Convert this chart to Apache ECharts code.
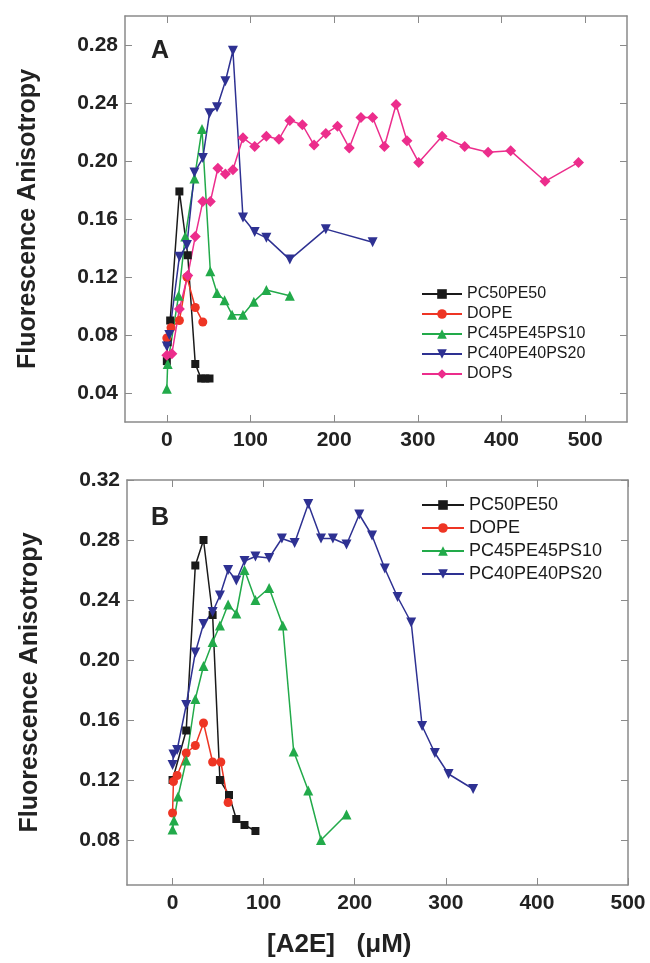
<!DOCTYPE html>
<html>
<head>
<meta charset="utf-8">
<title>Fluorescence Anisotropy vs A2E</title>
<script src="https://cdn.jsdelivr.net/npm/echarts@6/dist/echarts.min.js"></script>
</head>
<body style="margin:0">
<div id="box" style="width:650px;height:963px;"></div>
<script>
// panel A data
var aPC50x = [0, 1, 4, 15, 25, 34, 41, 46, 51]
var aPC50y = [0.062, 0.075, 0.09, 0.179, 0.135, 0.06, 0.05, 0.05, 0.05]
var aDOPEx = [0, 5, 15, 24, 34, 43]
var aDOPEy = [0.078, 0.085, 0.09, 0.12, 0.099, 0.089]
var aPS10x = [0, 1, 14, 22, 33, 42, 52, 60, 69, 78, 91, 104, 119, 147]
var aPS10y = [0.043, 0.06, 0.107, 0.148, 0.188, 0.222, 0.124, 0.109, 0.104, 0.094, 0.094, 0.103, 0.111, 0.107]
var aPS20x = [0, 3, 15, 24, 33, 43, 51, 60, 70, 79, 91, 105, 119, 147, 190, 246]
var aPS20y = [0.072, 0.08, 0.134, 0.142, 0.192, 0.202, 0.233, 0.237, 0.255, 0.276, 0.161, 0.151, 0.147, 0.132, 0.153, 0.144]
var aDOPSx = [0, 6, 15, 25, 34, 43, 52, 61, 70, 79, 91, 105, 119, 134, 147, 162, 176, 190, 204, 218, 232, 246, 260, 274, 287, 301, 329, 356, 384, 411, 452, 492]
var aDOPSy = [0.066, 0.067, 0.098, 0.121, 0.148, 0.172, 0.172, 0.195, 0.191, 0.194, 0.216, 0.21, 0.217, 0.215, 0.228, 0.225, 0.211, 0.219, 0.224, 0.209, 0.23, 0.23, 0.21, 0.239, 0.214, 0.199, 0.217, 0.21, 0.206, 0.207, 0.186, 0.199]

// panel B data
var bPC50x = [0, 15, 25, 34, 44, 52, 62, 70, 79, 91]
var bPC50y = [0.12, 0.153, 0.263, 0.28, 0.23, 0.12, 0.11, 0.094, 0.09, 0.086]
var bDOPEx = [0, 1, 5, 15, 25, 34, 44, 53, 61]
var bDOPEy = [0.098, 0.119, 0.123, 0.138, 0.143, 0.158, 0.132, 0.132, 0.105]
var bPS10x = [0, 1.5, 6, 15, 25, 34, 44, 52, 61, 70, 79, 91, 106, 121, 133, 149, 163, 191]
var bPS10y = [0.087, 0.093, 0.109, 0.133, 0.174, 0.196, 0.212, 0.223, 0.237, 0.231, 0.26, 0.24, 0.248, 0.223, 0.139, 0.113, 0.08, 0.097]
var bPS20x = [0, 1, 5, 15, 25, 34, 44, 52, 61, 70, 79, 91, 106, 120, 134, 149, 163, 176, 191, 205, 219, 233, 247, 262, 274, 288, 303, 330]
var bPS20y = [0.13, 0.137, 0.14, 0.17, 0.205, 0.224, 0.232, 0.243, 0.26, 0.253, 0.266, 0.269, 0.268, 0.281, 0.278, 0.304, 0.281, 0.281, 0.277, 0.297, 0.283, 0.261, 0.242, 0.225, 0.156, 0.138, 0.124, 0.114]

var xTicks = [0, 100, 200, 300, 400, 500]
var yTicksA = [0.04, 0.08, 0.12, 0.16, 0.20, 0.24, 0.28]
var yTicksB = [0.08, 0.12, 0.16, 0.20, 0.24, 0.28, 0.32]

var styles = {
	'PC50PE50': { color: '#1a1a1a', symbol: 'rect', size: 8, rotate: 0 },
	'DOPE': { color: '#ee3524', symbol: 'circle', size: 9, rotate: 0 },
	'PC45PE45PS10': { color: '#22aa4a', symbol: 'triangle', size: 10, rotate: 0 },
	'PC40PE40PS20': { color: '#2e3192', symbol: 'triangle', size: 10, rotate: 180 },
	'DOPS': { color: '#ec2d8c', symbol: 'diamond', size: 11, rotate: 0 }
}

function pts(xs, ys) {
	return xs.map(function(x, i) { return [x, ys[i]] })
}

function line(name, xs, ys, panel) {
	var s = styles[name]
	return {
		name: name,
		type: 'line',
		xAxisIndex: panel * 2,
		yAxisIndex: panel * 2,
		data: pts(xs, ys),
		symbol: s.symbol,
		symbolSize: s.size,
		symbolRotate: s.rotate,
		showAllSymbol: true,
		itemStyle: { color: s.color },
		lineStyle: { color: s.color, width: 1.5 },
		animation: false
	}
}

var frame = { onZero: false, lineStyle: { color: '#8a8a8a', width: 1.5 } }
var tickStyle = { color: '#8a8a8a', width: 1 }
var labelFont = { fontFamily: 'Liberation Sans', fontWeight: 'bold', fontSize: 21, color: '#222' }
var bigFont = { fontFamily: 'Liberation Sans', fontWeight: 'bold', color: '#222' }

function xAx(grid, max, top) {
	return {
		gridIndex: grid, type: 'value', min: -50, max: max,
		position: top ? 'top' : 'bottom',
		axisLine: frame,
		axisTick: { inside: true, length: 7, customValues: xTicks, lineStyle: tickStyle },
		axisLabel: top ? { show: false } : Object.assign({ customValues: xTicks, margin: 8 }, labelFont),
		splitLine: { show: false }
	}
}

function yAx(grid, min, max, ticks, right) {
	return {
		gridIndex: grid, type: 'value', min: min, max: max,
		position: right ? 'right' : 'left',
		axisLine: frame,
		axisTick: { inside: true, length: 7, customValues: ticks, lineStyle: tickStyle },
		axisLabel: right ? { show: false } : Object.assign({
			customValues: ticks, margin: 7,
			formatter: function(v) { return v.toFixed(2) }
		}, labelFont),
		splitLine: { show: false },
		name: right ? '' : 'Fluorescence Anisotropy',
		nameLocation: 'middle',
		nameGap: 84,
		nameTextStyle: Object.assign({ fontSize: 25 }, bigFont)
	}
}

var mCharts = echarts.init(document.querySelector('#box'))
var option = {
	backgroundColor: '#fff',
	animation: false,
	title: [
		{ text: 'A', left: 146, top: 34, textStyle: Object.assign({ fontSize: 25 }, bigFont) },
		{ text: 'B', left: 146, top: 501, textStyle: Object.assign({ fontSize: 25 }, bigFont) },
		{ text: '[A2E]   (\u03bcM)', left: 262, top: 927, textStyle: Object.assign({ fontSize: 26 }, bigFont) }
	],
	grid: [
		{ left: 125, top: 16, width: 502, height: 406 },
		{ left: 127, top: 480, width: 501, height: 405 }
	],
	legend: [
		{
			data: ['PC50PE50', 'DOPE', 'PC45PE45PS10', 'PC40PE40PS20', 'DOPS'],
			orient: 'vertical', left: 416, top: 281, itemWidth: 40, itemHeight: 12, itemGap: 4,
			textStyle: { fontFamily: 'Liberation Sans', fontSize: 16, lineHeight: 16, color: '#1a1a1a' }
		},
		{
			data: ['PC50PE50', 'DOPE', 'PC45PE45PS10', 'PC40PE40PS20'],
			orient: 'vertical', left: 416, top: 491, itemWidth: 42, itemHeight: 12, itemGap: 5,
			textStyle: { fontFamily: 'Liberation Sans', fontSize: 18, lineHeight: 18, color: '#1a1a1a' }
		}
	],
	xAxis: [
		xAx(0, 550, false), xAx(0, 550, true),
		xAx(1, 500, false), xAx(1, 500, true)
	],
	yAxis: [
		yAx(0, 0.02, 0.30, yTicksA, false), yAx(0, 0.02, 0.30, yTicksA, true),
		yAx(1, 0.05, 0.32, yTicksB, false), yAx(1, 0.05, 0.32, yTicksB, true)
	],
	series: [
		line('PC50PE50', aPC50x, aPC50y, 0),
		line('DOPE', aDOPEx, aDOPEy, 0),
		line('PC45PE45PS10', aPS10x, aPS10y, 0),
		line('PC40PE40PS20', aPS20x, aPS20y, 0),
		line('DOPS', aDOPSx, aDOPSy, 0),
		line('PC50PE50', bPC50x, bPC50y, 1),
		line('DOPE', bDOPEx, bDOPEy, 1),
		line('PC45PE45PS10', bPS10x, bPS10y, 1),
		line('PC40PE40PS20', bPS20x, bPS20y, 1)
	]
}
mCharts.setOption(option)
</script>
</body>
</html>
